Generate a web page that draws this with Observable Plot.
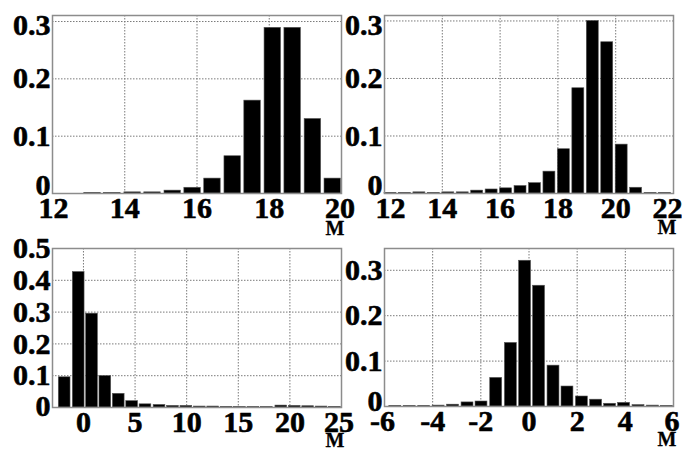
<!DOCTYPE html>
<html>
<head>
<meta charset="utf-8">
<script src="https://cdn.jsdelivr.net/npm/d3@7"></script>
<script src="https://cdn.jsdelivr.net/npm/@observablehq/plot@0.6"></script>
<style>
  html, body { margin: 0; padding: 0; background: white; }
  #wrap { position: relative; width: 682px; height: 449px; overflow: hidden; background: white; }
</style>
</head>
<body>
<div id="wrap"></div>
<script>
// ---------- data ----------
// Panel 1 (top-left)
const p1Start = [12.88, 13.43, 13.99, 14.54, 15.10, 15.65, 16.20, 16.76, 17.31, 17.87, 18.42, 18.98, 19.53];
const p1Freq  = [0.001, 0.001, 0.002, 0.002, 0.005, 0.010, 0.026, 0.065, 0.162, 0.289, 0.289, 0.130, 0.026];
const p1BinW = 0.553;
const p1XTicks = [12, 14, 16, 18, 20];
const p1YTicks = [0, 0.1, 0.2, 0.3];

// Panel 2 (top-right)
const p2Start = [12.0, 12.5, 13.0, 13.5, 14.0, 14.5, 15.0, 15.5, 16.0, 16.5, 17.0, 17.5, 18.0, 18.5, 19.0, 19.5, 20.0, 20.5, 21.0, 21.5];
const p2Freq  = [0.001, 0.001, 0.002, 0.001, 0.002, 0.002, 0.005, 0.007, 0.009, 0.013, 0.018, 0.038, 0.077, 0.183, 0.300, 0.263, 0.085, 0.010, 0.001, 0.001];
const p2BinW = 0.5;
const p2XTicks = [12, 14, 16, 18, 20, 22];
const p2YTicks = [0, 0.1, 0.2, 0.3];

// Panel 3 (bottom-left)
const p3Start = [-2.39, -1.03, 0.26, 1.55, 2.85, 4.15, 5.44, 6.80, 8.10, 9.40, 10.70, 12.00, 13.30, 14.60, 15.90, 17.20, 18.60, 19.90, 21.20, 22.50, 23.80];
const p3Freq  = [0.095, 0.426, 0.295, 0.099, 0.043, 0.020, 0.010, 0.008, 0.005, 0.005, 0.003, 0.003, 0.002, 0.001, 0.001, 0.001, 0.006, 0.005, 0.004, 0.003, 0.002];
const p3BinW = 1.3;
const p3XTicks = [0, 5, 10, 15, 20, 25];
const p3YTicks = [0, 0.1, 0.2, 0.3, 0.4, 0.5];

// Panel 4 (bottom-right)
const p4Start = [-5.80, -5.20, -4.60, -4.00, -3.40, -2.80, -2.22, -1.61, -1.00, -0.41, 0.17, 0.77, 1.35, 1.95, 2.54, 3.12, 3.70, 4.30, 4.90, 5.48];
const p4Freq  = [0.001, 0.001, 0.001, 0.002, 0.004, 0.009, 0.011, 0.063, 0.140, 0.321, 0.266, 0.090, 0.044, 0.022, 0.015, 0.006, 0.008, 0.003, 0.002, 0.001];
const p4BinW = 0.59;
const p4XTicks = [-6, -4, -2, 0, 2, 4, 6];
const p4YTicks = [0, 0.1, 0.2, 0.3];

const unitLabel = "М";

// ---------- drawing ----------
const FONT = {fontFamily: "'Liberation Serif', 'Times New Roman', serif", fontWeight: "bold", fill: "black", stroke: "black", strokeWidth: 0.6};

function panel(o) {
  const rows = o.starts.map((s, i) => ({x1: s, x2: s + o.binW, y: o.freqs[i]}));
  const yT = o.yTicks;
  const zero = yT.slice(0, 1), top = yT.slice(-1), mid = yT.slice(1, -1);
  const xFirst = o.xTicks.slice(0, 1), xMid = o.xTicks.slice(1, -1), xLast = o.xTicks.slice(-1);
  const yText = (data, dy) => Plot.text(data, {
    y: d => d, text: d => String(d), frameAnchor: "left", textAnchor: "end",
    dx: -2, dy, fontSize: 30, ...FONT
  });
  const xText = (data, dx) => Plot.text(data, {
    x: d => d, text: d => String(d), frameAnchor: "bottom", lineAnchor: "top",
    dy: 3, dx, fontSize: 30, ...FONT
  });
  const chart = Plot.plot({
    width: o.width, height: o.height,
    marginLeft: o.ml, marginRight: o.mr, marginTop: o.mt, marginBottom: o.mb,
    x: {domain: o.xDomain, axis: null},
    y: {domain: o.yDomain, axis: null},
    style: {background: "transparent", overflow: "visible"},
    marks: [
      Plot.ruleX(o.xTicks, {stroke: "#7a7a7a", strokeWidth: 1, strokeDasharray: "1.5,1.5"}),
      Plot.ruleY(o.yTicks, {stroke: "#7a7a7a", strokeWidth: 1, strokeDasharray: "1.5,1.5"}),
      Plot.rectY(rows, {x1: "x1", x2: "x2", y: "y", fill: "black", stroke: "#555", strokeWidth: 0.6, insetRight: o.gap}),
      Plot.frame({stroke: "#8c8c8c", strokeWidth: 1.5}),
      yText(zero, o.zeroDy),
      yText(mid, 0),
      yText(top, o.topDy),
      xText(xFirst, o.firstDx),
      xText(xMid, 0),
      xText(xLast, o.lastDx),
      Plot.text([unitLabel], {
        text: d => d, frameAnchor: "bottom-right", textAnchor: "middle", lineAnchor: "middle",
        dx: -6.5, dy: o.unitDy, fontSize: 20, ...FONT, strokeWidth: 0.3
      })
    ]
  });
  chart.style.position = "absolute";
  chart.style.left = o.left + "px";
  chart.style.top = o.top + "px";
  return chart;
}

const wrap = document.getElementById("wrap");
wrap.appendChild(panel({
  starts: p1Start, freqs: p1Freq, binW: p1BinW, gap: 3.5,
  xDomain: [12, 20], yDomain: [0, 0.3105], xTicks: p1XTicks, yTicks: p1YTicks,
  left: 0, top: 0, width: 345, height: 225, ml: 52, mr: 4, mt: 15, mb: 32,
  zeroDy: -8, topDy: 4, unitDy: 35, firstDx: 1, lastDx: -1.5
}));
wrap.appendChild(panel({
  starts: p2Start, freqs: p2Freq, binW: p2BinW, gap: 2.5,
  xDomain: [12, 22], yDomain: [0, 0.3095], xTicks: p2XTicks, yTicks: p2YTicks,
  left: 340, top: 0, width: 342, height: 225, ml: 44, mr: 9, mt: 15, mb: 32,
  zeroDy: -8, topDy: 4, unitDy: 34, firstDx: 6, lastDx: -6
}));
wrap.appendChild(panel({
  starts: p3Start, freqs: p3Freq, binW: p3BinW, gap: 1.7,
  xDomain: [-3, 25], yDomain: [0, 0.5], xTicks: p3XTicks, yTicks: p3YTicks,
  left: 0, top: 225, width: 345, height: 224, ml: 52, mr: 4, mt: 23, mb: 42,
  zeroDy: -1, topDy: 0, unitDy: 33, firstDx: 0, lastDx: -2.5
}));
wrap.appendChild(panel({
  starts: p4Start, freqs: p4Freq, binW: p4BinW, gap: 2.3,
  xDomain: [-6, 6], yDomain: [0, 0.348], xTicks: p4XTicks, yTicks: p4YTicks,
  left: 340, top: 225, width: 342, height: 224, ml: 44, mr: 9, mt: 23, mb: 43,
  zeroDy: -5, topDy: 0, unitDy: 33, firstDx: -2, lastDx: -1.5
}));
</script>
</body>
</html>
